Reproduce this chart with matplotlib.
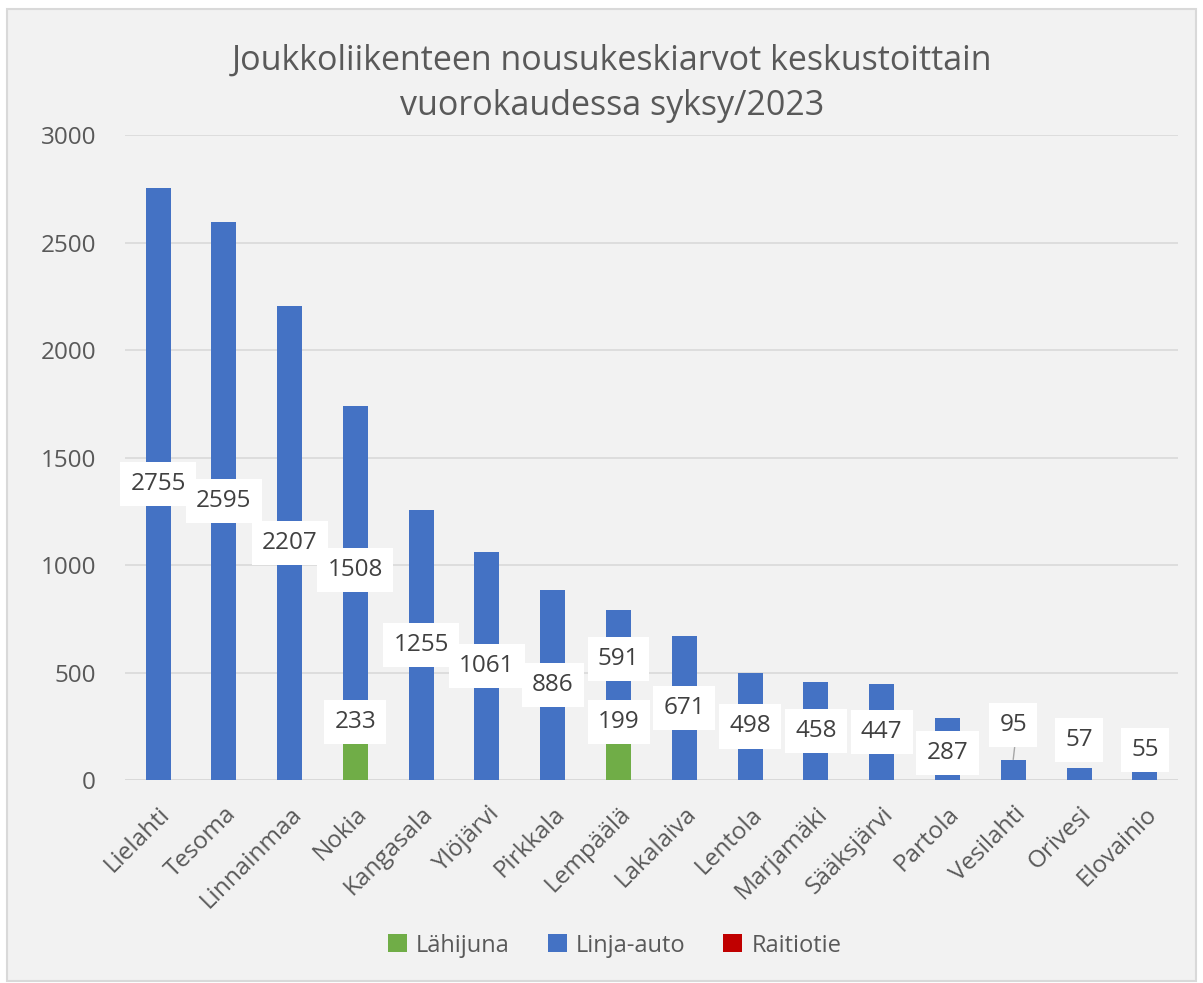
import numpy as np
from matplotlib import pyplot as plt
from matplotlib.patches import Rectangle

# Data
paikat = ['Lielahti', 'Tesoma', 'Linnainmaa', 'Nokia', 'Kangasala', 'Ylöjärvi',
          'Pirkkala', 'Lempäälä', 'Lakalaiva', 'Lentola', 'Marjamäki',
          'Sääksjärvi', 'Partola', 'Vesilahti', 'Orivesi', 'Elovainio']
lahijuna = [0, 0, 0, 233, 0, 0, 0, 199, 0, 0, 0, 0, 0, 0, 0, 0]
linja_auto = [2755, 2595, 2207, 1508, 1255, 1061, 886, 591, 671, 498, 458,
              447, 287, 95, 57, 55]
raitiotie = [0] * 16
yticks = [0, 500, 1000, 1500, 2000, 2500, 3000]

# Labels that were moved by hand in the original (category index -> y)
bus_label_y = {3: 977, 7: 563, 12: 126, 13: 256, 14: 186, 15: 140}
train_label_y = {3: 270, 7: 270}

green = '#70ad47'
blue = '#4472c4'
red = '#c00000'
txt = '#595959'

plt.rcParams['font.family'] = ['Open Sans', 'DejaVu Sans']

fig = plt.figure(figsize=(12.03, 9.83), dpi=100)
fig.patch.set_facecolor('white')
fig.patches.append(Rectangle((7 / 1203, 1 - 981 / 983), 1189 / 1203, 972 / 983,
                             transform=fig.transFigure, facecolor='#f2f2f2',
                             edgecolor='#d9d9d9', linewidth=1.5, zorder=-10))

ax = fig.add_axes([0.104, 0.2065, 0.875, 0.656])
ax.set_facecolor('#f2f2f2')

x = np.arange(len(paikat))
w = 0.38
b1 = np.array(lahijuna)
b2 = b1 + np.array(linja_auto)
ax.bar(x, lahijuna, w, color=green, label='Lähijuna', zorder=2)
ax.bar(x, linja_auto, w, bottom=b1, color=blue, label='Linja-auto', zorder=2)
ax.bar(x, raitiotie, w, bottom=b2, color=red, label='Raitiotie', zorder=2)

box = dict(facecolor='white', edgecolor='none', boxstyle='square,pad=0.42')
for i in x:
    if lahijuna[i] > 0:
        ty = train_label_y.get(i, lahijuna[i] / 2)
        ax.text(i, ty, str(lahijuna[i]), ha='center', va='center', fontsize=17.5,
                color='#404040', bbox=box, zorder=5)
    by = bus_label_y.get(i, lahijuna[i] + linja_auto[i] / 2)
    ax.text(i, by, str(linja_auto[i]), ha='center', va='center', fontsize=17.5,
            color='#404040', bbox=box, zorder=5)

# leader line for Vesilahti
ax.plot([13.02, 13.0], [150, 97], color='#a6a6a6', lw=1, zorder=3)

ax.set_xlim(-0.5, len(paikat) - 0.5)
ax.set_ylim(0, 3000)
ax.set_yticks(yticks)
ax.set_yticklabels([str(v) for v in yticks])
ax.grid(axis='y', color='#d9d9d9', lw=1.2, zorder=0)
ax.axhline(0, color='#d9d9d9', lw=2, zorder=1)
for s in ax.spines.values():
    s.set_visible(False)
ax.tick_params(axis='both', length=0, labelsize=17.5, colors=txt)
ax.tick_params(axis='y', pad=21)
ax.set_xticks(x)
ax.set_xticklabels(paikat, rotation=45, ha='right', rotation_mode='anchor')
ax.tick_params(axis='x', pad=16)

fig.text(0.509, 0.915, 'Joukkoliikenteen nousukeskiarvot keskustoittain\nvuorokaudessa syksy/2023',
         ha='center', va='center', fontsize=24.5, color=txt, linespacing=1.45)

fig.legend(loc='center', bbox_to_anchor=(0.511, 0.038), ncol=3, frameon=False,
           fontsize=17, labelcolor=txt, handlelength=0.8, handleheight=0.8,
           handletextpad=0.4, columnspacing=1.6)

fig.savefig('out.png', dpi=100, facecolor='white')
